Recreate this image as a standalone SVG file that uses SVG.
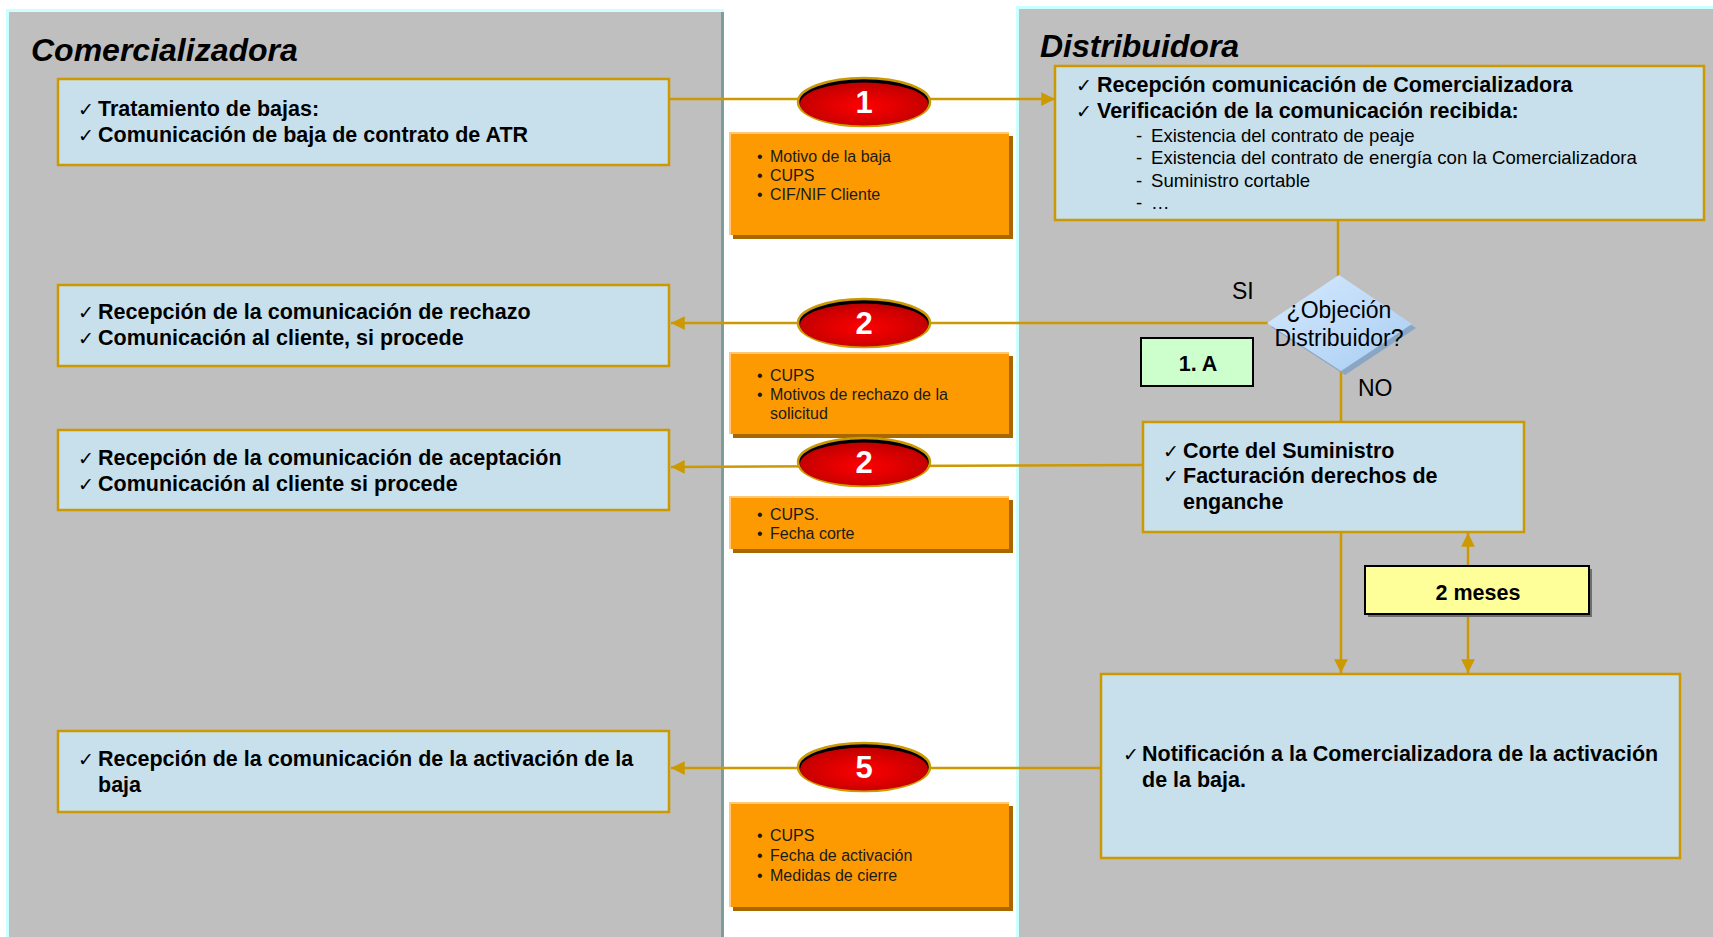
<svg xmlns="http://www.w3.org/2000/svg" width="1713" height="937" viewBox="0 0 1713 937">
<defs>
<style>
.box{fill:#c8e0ec;stroke:#cc9900;stroke-width:2.5}
.t{font-family:"Liberation Sans",Arial,sans-serif;font-size:21.5px;font-weight:bold;fill:#000}
.ck{font-family:"DejaVu Sans",sans-serif;font-size:19px;font-weight:normal;fill:#000}
.sub{font-family:"Liberation Sans",Arial,sans-serif;font-size:18.6px;fill:#000}
.ot{font-family:"Liberation Sans",Arial,sans-serif;font-size:16px;fill:#1a1a1a}
.num{font-family:"Liberation Sans",Arial,sans-serif;font-size:31px;font-weight:bold;fill:#fff;text-anchor:middle}
.title{font-family:"Liberation Sans",Arial,sans-serif;font-size:32px;font-weight:bold;font-style:italic;fill:#000}
.conn{stroke:#cc9900;stroke-width:2.5;fill:none}
.lbl{font-family:"Liberation Sans",Arial,sans-serif;font-size:23px;fill:#000}
</style>
<radialGradient id="rg" cx="0.5" cy="0.55" r="0.55">
<stop offset="0" stop-color="#ff0000"/>
<stop offset="1" stop-color="#c00000"/>
</radialGradient>
<linearGradient id="dg" x1="0" y1="0" x2="1" y2="1">
<stop offset="0" stop-color="#d6eaff"/>
<stop offset="1" stop-color="#a9cdf2"/>
</linearGradient>
<marker id="ah" viewBox="0 0 10 10" refX="10" refY="5" markerWidth="6" markerHeight="5.5" orient="auto" markerUnits="strokeWidth">
<path d="M0,0 L10,5 L0,10 z" fill="#cc9900"/>
</marker>
</defs>

<rect x="0" y="0" width="1713" height="937" fill="#ffffff"/>

<!-- Lanes -->
<g id="lane-comercializadora">
<rect x="6" y="9" width="718" height="932" fill="#ccffff"/>
<rect x="9" y="12" width="714" height="930" fill="#bfbfbf"/>
<rect x="721" y="12" width="3" height="930" fill="#7d9c9c"/>
<text class="title" x="31" y="61">Comercializadora</text>
</g>
<g id="lane-distribuidora">
<rect x="1016" y="6" width="700" height="935" fill="#ccffff"/>
<rect x="1019" y="9" width="700" height="935" fill="#bfbfbf"/>
<text class="title" x="1040" y="57">Distribuidora</text>
</g>

<!-- Connectors -->
<g id="connectors">
<line class="conn" x1="669" y1="99" x2="1055" y2="99" marker-end="url(#ah)"/>
<line class="conn" x1="1338" y1="220" x2="1338" y2="276"/>
<line class="conn" x1="1268" y1="323" x2="671" y2="323" marker-end="url(#ah)"/>
<line class="conn" x1="1341" y1="370" x2="1341" y2="422"/>
<line class="conn" x1="1143" y1="465" x2="671" y2="467" marker-end="url(#ah)"/>
<line class="conn" x1="1341" y1="532" x2="1341" y2="673" marker-end="url(#ah)"/>
<line class="conn" x1="1468" y1="566" x2="1468" y2="533" marker-end="url(#ah)"/>
<line class="conn" x1="1468" y1="614" x2="1468" y2="673" marker-end="url(#ah)"/>
<line class="conn" x1="1101" y1="768" x2="671" y2="768" marker-end="url(#ah)"/>
</g>

<!-- Comercializadora nodes -->
<g id="n-tratamiento">
<rect class="box" x="58" y="79" width="611" height="86"/>
<text x="78" y="116"><tspan class="ck">✓</tspan><tspan class="t" x="98">Tratamiento de bajas:</tspan></text>
<text x="78" y="142"><tspan class="ck">✓</tspan><tspan class="t" x="98">Comunicación de baja de contrato de ATR</tspan></text>
</g>
<g id="n-rechazo">
<rect class="box" x="58" y="285" width="611" height="81"/>
<text x="78" y="319"><tspan class="ck">✓</tspan><tspan class="t" x="98">Recepción de la comunicación de rechazo</tspan></text>
<text x="78" y="345"><tspan class="ck">✓</tspan><tspan class="t" x="98">Comunicación al cliente, si procede</tspan></text>
</g>
<g id="n-aceptacion">
<rect class="box" x="58" y="430" width="611" height="80"/>
<text x="78" y="465"><tspan class="ck">✓</tspan><tspan class="t" x="98">Recepción de la comunicación de aceptación</tspan></text>
<text x="78" y="491"><tspan class="ck">✓</tspan><tspan class="t" x="98">Comunicación al cliente si procede</tspan></text>
</g>
<g id="n-activacion">
<rect class="box" x="58" y="731" width="611" height="81"/>
<text x="78" y="766"><tspan class="ck">✓</tspan><tspan class="t" x="98">Recepción de la comunicación de la activación de la</tspan></text>
<text class="t" x="98" y="792">baja</text>
</g>

<!-- Data boxes -->
<g id="d1">
<rect x="733" y="136" width="280" height="103" fill="#a86800"/>
<rect x="729" y="132" width="280" height="103" fill="#ffc878"/>
<rect x="731" y="134" width="278" height="101" fill="#fd9a02"/>
<text class="ot" x="757" y="162">•<tspan x="770">Motivo de la baja</tspan></text>
<text class="ot" x="757" y="181">•<tspan x="770">CUPS</tspan></text>
<text class="ot" x="757" y="200">•<tspan x="770">CIF/NIF Cliente</tspan></text>
</g>
<g id="d2">
<rect x="733" y="356" width="280" height="82" fill="#a86800"/>
<rect x="729" y="352" width="280" height="82" fill="#ffc878"/>
<rect x="731" y="354" width="278" height="80" fill="#fd9a02"/>
<text class="ot" x="757" y="381">•<tspan x="770">CUPS</tspan></text>
<text class="ot" x="757" y="400">•<tspan x="770">Motivos de rechazo de la</tspan></text>
<text class="ot" x="770" y="419">solicitud</text>
</g>
<g id="d3">
<rect x="733" y="500" width="280" height="53" fill="#a86800"/>
<rect x="729" y="496" width="280" height="53" fill="#ffc878"/>
<rect x="731" y="498" width="278" height="51" fill="#fd9a02"/>
<text class="ot" x="757" y="520">•<tspan x="770">CUPS.</tspan></text>
<text class="ot" x="757" y="539">•<tspan x="770">Fecha corte</tspan></text>
</g>
<g id="d4">
<rect x="733" y="806" width="280" height="105" fill="#a86800"/>
<rect x="729" y="802" width="280" height="105" fill="#ffc878"/>
<rect x="731" y="804" width="278" height="103" fill="#fd9a02"/>
<text class="ot" x="757" y="841">•<tspan x="770">CUPS</tspan></text>
<text class="ot" x="757" y="861">•<tspan x="770">Fecha de activación</tspan></text>
<text class="ot" x="757" y="881">•<tspan x="770">Medidas de cierre</tspan></text>
</g>

<!-- Step ellipses -->
<g id="s1">
<ellipse cx="864" cy="102" rx="66" ry="24" fill="#000" stroke="#cc9900" stroke-width="2.5"/>
<ellipse cx="864" cy="104" rx="64" ry="21.5" fill="url(#rg)"/>
<text class="num" x="864" y="113">1</text>
</g>
<g id="s2a">
<ellipse cx="864" cy="323" rx="66" ry="24" fill="#000" stroke="#cc9900" stroke-width="2.5"/>
<ellipse cx="864" cy="325" rx="64" ry="21.5" fill="url(#rg)"/>
<text class="num" x="864" y="334">2</text>
</g>
<g id="s2b">
<ellipse cx="864" cy="462" rx="66" ry="24" fill="#000" stroke="#cc9900" stroke-width="2.5"/>
<ellipse cx="864" cy="464" rx="64" ry="21.5" fill="url(#rg)"/>
<text class="num" x="864" y="473">2</text>
</g>
<g id="s5">
<ellipse cx="864" cy="767" rx="66" ry="24" fill="#000" stroke="#cc9900" stroke-width="2.5"/>
<ellipse cx="864" cy="769" rx="64" ry="21.5" fill="url(#rg)"/>
<text class="num" x="864" y="778">5</text>
</g>

<!-- Distribuidora nodes -->
<g id="n-recepcion">
<rect class="box" x="1055" y="66" width="649" height="154"/>
<text x="1076" y="92"><tspan class="ck">✓</tspan><tspan class="t" x="1097">Recepción comunicación de Comercializadora</tspan></text>
<text x="1076" y="118"><tspan class="ck">✓</tspan><tspan class="t" x="1097">Verificación de la comunicación recibida:</tspan></text>
<text class="sub" x="1136" y="142">-<tspan x="1151">Existencia del contrato de peaje</tspan></text>
<text class="sub" x="1136" y="164">-<tspan x="1151">Existencia del contrato de energía con la Comercializadora</tspan></text>
<text class="sub" x="1136" y="187">-<tspan x="1151">Suministro cortable</tspan></text>
<text class="sub" x="1136" y="209">-<tspan x="1151">…</tspan></text>
</g>
<g id="n-objecion">
<polygon points="1343,279 1416,328 1345,375 1271,327" fill="#8aa6c4"/>
<polygon points="1339,275 1412,324 1341,371 1267,323" fill="url(#dg)"/>
<text class="lbl" x="1339" y="318" text-anchor="middle">¿Objeción</text>
<text class="lbl" x="1339" y="346" text-anchor="middle">Distribuidor?</text>
</g>
<text class="lbl" x="1232" y="299">SI</text>
<text class="lbl" x="1358" y="396">NO</text>
<g id="n-1a">
<rect x="1141" y="338" width="112" height="48" fill="#ccffcc" stroke="#000" stroke-width="2"/>
<text class="t" x="1198" y="371" text-anchor="middle" font-size="25">1. A</text>
</g>
<g id="n-corte">
<rect class="box" x="1143" y="422" width="381" height="110"/>
<text x="1163" y="458"><tspan class="ck">✓</tspan><tspan class="t" x="1183">Corte del Suministro</tspan></text>
<text x="1163" y="483"><tspan class="ck">✓</tspan><tspan class="t" x="1183">Facturación derechos de</tspan></text>
<text class="t" x="1183" y="509">enganche</text>
</g>
<g id="n-2meses">
<rect x="1368" y="569" width="224" height="48" fill="#6e6e6e"/>
<rect x="1365" y="566" width="224" height="48" fill="#ffff99" stroke="#000" stroke-width="2"/>
<text class="t" x="1478" y="600" text-anchor="middle" font-size="25">2 meses</text>
</g>
<g id="n-notificacion">
<rect class="box" x="1101" y="674" width="579" height="184"/>
<text x="1123" y="761"><tspan class="ck">✓</tspan><tspan class="t" x="1142">Notificación a la Comercializadora de la activación</tspan></text>
<text class="t" x="1142" y="787">de la baja.</text>
</g>
</svg>
